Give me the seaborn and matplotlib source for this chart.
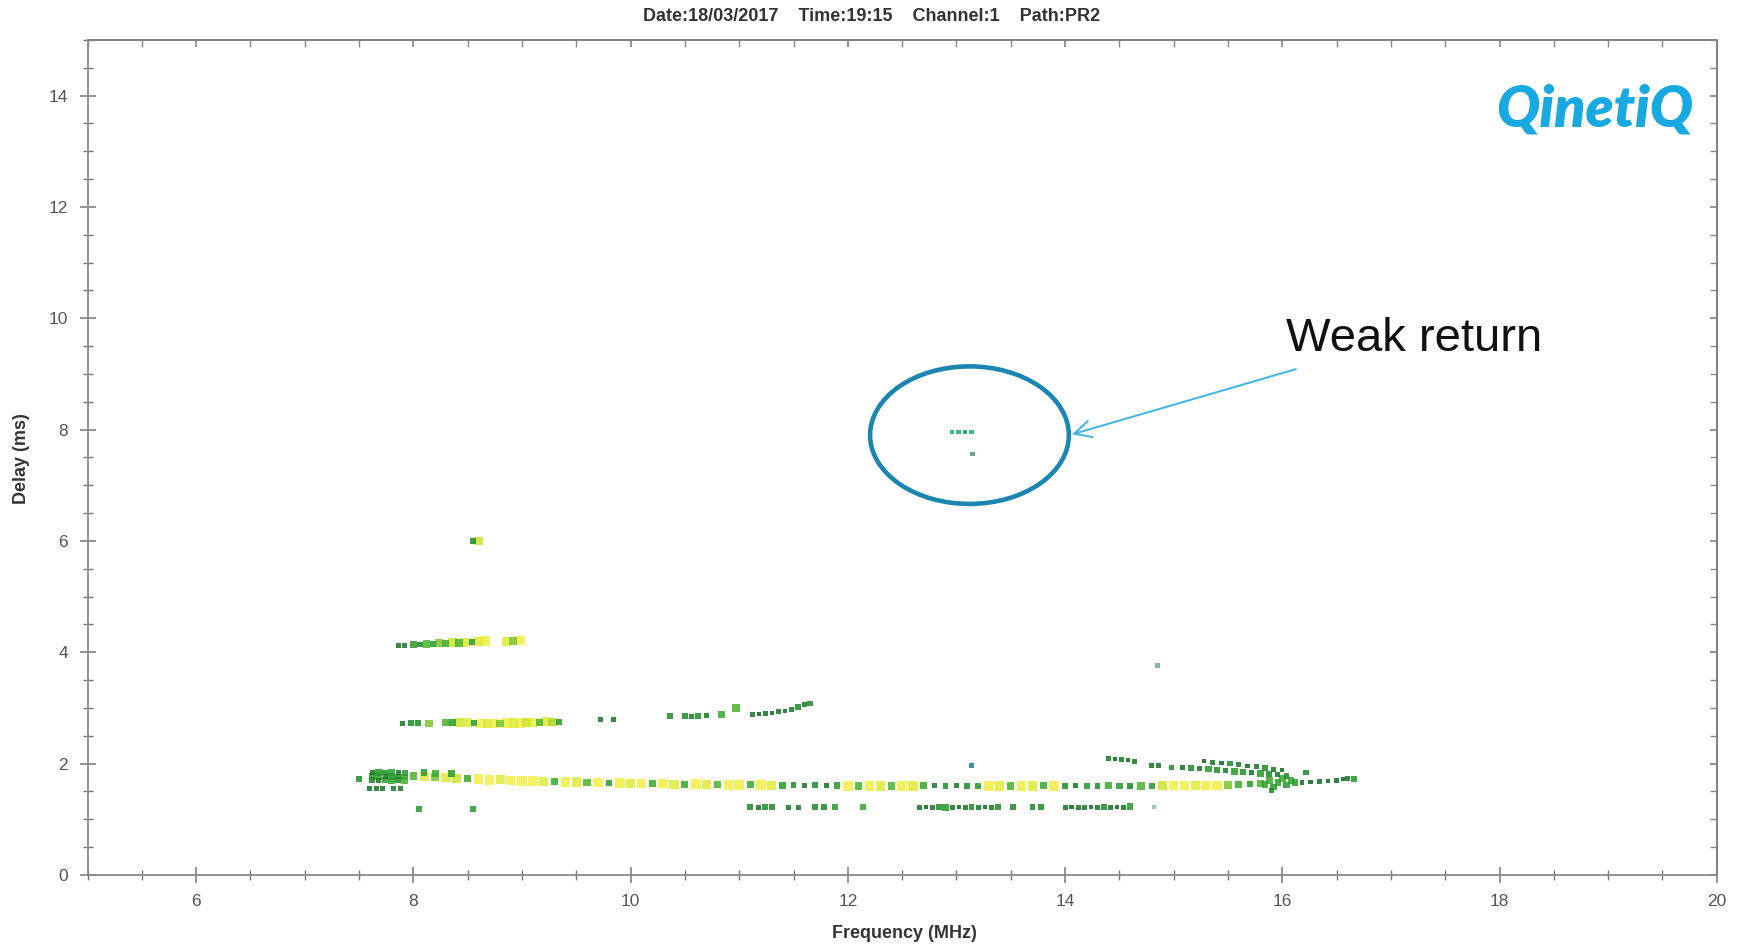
import pandas as pd
import matplotlib
matplotlib.use('Agg')
import matplotlib.pyplot as plt
import seaborn as sns
from matplotlib.colors import LinearSegmentedColormap
from matplotlib.patches import Ellipse
from matplotlib.ticker import MultipleLocator

# ---- sounding echoes: frequency (MHz), delay (ms), level (0 = dark green, 1 = yellow)
main_f = [8.0, 8.1, 8.2, 8.3, 8.4, 8.5, 8.6, 8.7, 8.8, 8.9,
          9.0, 9.1, 9.2, 9.3, 9.4, 9.5, 9.6, 9.7, 9.8, 9.9,
          10.0, 10.1, 10.2, 10.3, 10.4, 10.5, 10.6, 10.7, 10.8, 10.9,
          11.0, 11.1, 11.2, 11.3, 11.4, 11.5, 11.6, 11.7, 11.8, 11.9,
          12.0, 12.1, 12.2, 12.3, 12.4, 12.5, 12.6, 12.7, 12.8, 12.9,
          13.0, 13.1, 13.2, 13.3, 13.4, 13.5, 13.6, 13.7, 13.8, 13.9,
          14.0, 14.1, 14.2, 14.3, 14.4, 14.5, 14.6, 14.7, 14.8, 14.9,
          15.0, 15.1, 15.2, 15.3, 15.4, 15.5, 15.6, 15.7, 15.8]
main_d = [1.78, 1.77, 1.76, 1.75, 1.74, 1.73, 1.72, 1.71, 1.71, 1.70,
          1.69, 1.69, 1.68, 1.68, 1.67, 1.67, 1.66, 1.66, 1.65, 1.65,
          1.65, 1.64, 1.64, 1.64, 1.63, 1.63, 1.63, 1.63, 1.62, 1.62,
          1.62, 1.62, 1.62, 1.61, 1.61, 1.61, 1.61, 1.61, 1.61, 1.61,
          1.60, 1.60, 1.60, 1.60, 1.60, 1.60, 1.60, 1.60, 1.60, 1.60,
          1.60, 1.60, 1.60, 1.60, 1.60, 1.60, 1.60, 1.60, 1.60, 1.60,
          1.60, 1.60, 1.60, 1.60, 1.60, 1.60, 1.60, 1.60, 1.60, 1.60,
          1.61, 1.61, 1.61, 1.61, 1.61, 1.62, 1.62, 1.63, 1.64]
main_c = [0.5, 0.9, 0.6, 0.9, 0.8, 0.4, 1.0, 1.0, 0.9, 1.0,
          1.0, 1.0, 0.9, 0.4, 1.0, 0.9, 0.5, 1.0, 0.3, 1.0,
          0.9, 1.0, 0.4, 1.0, 0.9, 0.4, 1.0, 0.9, 0.5, 1.0,
          1.0, 0.4, 1.0, 0.9, 0.3, 0.2, 0.1, 0.2, 0.1, 0.3,
          1.0, 0.5, 1.0, 0.9, 0.5, 1.0, 0.9, 0.4, 0.1, 0.2,
          0.1, 0.2, 0.3, 1.0, 0.9, 0.5, 1.0, 0.9, 0.4, 1.0,
          0.2, 0.1, 0.3, 0.2, 0.4, 0.3, 0.2, 0.5, 0.3, 0.8,
          1.0, 1.0, 0.9, 1.0, 1.0, 0.6, 0.4, 0.3, 0.5]

left_f = [7.50, 7.62, 7.68, 7.74, 7.80, 7.86, 7.92, 7.62, 7.68, 7.74, 7.80, 7.86, 7.92,
          7.62, 7.68, 7.74, 7.80, 7.86, 7.92, 7.60, 7.66, 7.72, 7.82, 7.88,
          8.10, 8.20, 8.35, 8.05, 8.55, 8.55, 8.60]
left_d = [1.72, 1.84, 1.84, 1.84, 1.84, 1.84, 1.83, 1.77, 1.77, 1.77, 1.77, 1.77, 1.76,
          1.70, 1.70, 1.70, 1.70, 1.70, 1.70, 1.55, 1.55, 1.55, 1.55, 1.55,
          1.84, 1.83, 1.82, 1.18, 1.18, 6.00, 6.00]
left_c = [0.2, 0.1, 0.3, 0.2, 0.35, 0.1, 0.3, 0.3, 0.35, 0.1, 0.3, 0.2, 0.4,
          0.2, 0.1, 0.3, 0.35, 0.2, 0.5, 0.1, 0.1, 0.1, 0.1, 0.1,
          0.3, 0.4, 0.3, 0.3, 0.3, 0.2, 0.8]

f4_f = [7.86, 7.92, 8.00, 8.06, 8.12, 8.18, 8.24, 8.30, 8.36, 8.42, 8.48, 8.54, 8.60, 8.66,
        8.86, 8.92, 8.98]
f4_d = [4.13, 4.13, 4.14, 4.14, 4.15, 4.15, 4.16, 4.16, 4.17, 4.17, 4.18, 4.19, 4.19, 4.20,
        4.20, 4.21, 4.21]
f4_c = [0.1, 0.1, 0.3, 0.2, 0.5, 0.3, 0.6, 0.4, 0.8, 0.5, 0.9, 0.3, 0.9, 1.0,
        0.9, 0.6, 1.0]

f3_f = [7.90, 7.98, 8.04, 8.14, 8.30, 8.36, 8.42, 8.50, 8.56, 8.62, 8.68, 8.74, 8.80, 8.86,
        8.92, 8.98, 9.04, 9.10, 9.16, 9.22, 9.28, 9.34, 9.72, 9.84,
        10.36, 10.50, 10.56, 10.62, 10.70, 10.84, 10.97,
        11.12, 11.18, 11.24, 11.30, 11.36, 11.42, 11.48, 11.54, 11.60, 11.65]
f3_d = [2.72, 2.73, 2.73, 2.72, 2.74, 2.74, 2.74, 2.74, 2.73, 2.72, 2.72, 2.72, 2.72, 2.73,
        2.73, 2.73, 2.74, 2.74, 2.74, 2.75, 2.75, 2.75, 2.79, 2.79,
        2.85, 2.85, 2.85, 2.85, 2.86, 2.88, 3.00,
        2.88, 2.89, 2.90, 2.91, 2.93, 2.95, 2.98, 3.02, 3.06, 3.08]
f3_c = [0.1, 0.2, 0.2, 0.6, 0.5, 0.3, 0.8, 0.9, 0.3, 1.0, 0.9, 1.0, 0.6, 1.0,
        0.9, 1.0, 0.8, 1.0, 0.5, 0.9, 0.7, 0.3, 0.1, 0.1,
        0.2, 0.2, 0.1, 0.2, 0.1, 0.4, 0.5,
        0.1, 0.0, 0.1, 0.0, 0.1, 0.0, 0.1, 0.2, 0.1, 0.2]

low_f = [11.10, 11.18, 11.24, 11.30, 11.45, 11.55, 11.70, 11.78, 11.88, 12.14,
         12.66, 12.72, 12.78, 12.84, 12.90, 12.96, 13.02, 13.08, 13.14, 13.20, 13.26, 13.32, 13.38,
         13.52, 13.70, 13.78,
         14.00, 14.06, 14.12, 14.18, 14.24, 14.30, 14.36, 14.42, 14.48, 14.54, 14.60]
low_d = [1.22, 1.22, 1.22, 1.22, 1.22, 1.22, 1.22, 1.22, 1.22, 1.22,
         1.22, 1.22, 1.22, 1.22, 1.21, 1.21, 1.22, 1.22, 1.22, 1.22, 1.22, 1.22, 1.22,
         1.22, 1.22, 1.22,
         1.22, 1.22, 1.22, 1.22, 1.22, 1.22, 1.22, 1.22, 1.22, 1.22, 1.23]
low_c = [0.2, 0.1, 0.2, 0.2, 0.1, 0.1, 0.2, 0.2, 0.3, 0.4,
         0.1, 0.0, 0.1, 0.2, 0.3, 0.1, 0.0, 0.1, 0.2, 0.1, 0.0, 0.1, 0.2,
         0.2, 0.2, 0.2,
         0.1, 0.0, 0.1, 0.1, 0.0, 0.1, 0.2, 0.1, 0.0, 0.1, 0.3]

hi_f = [14.40, 14.46, 14.52, 14.58, 14.64, 14.80, 14.86, 14.98,
        15.08, 15.16, 15.24, 15.32, 15.40, 15.48, 15.56, 15.64, 15.72, 15.80, 15.88, 15.96, 16.04,
        15.28, 15.36, 15.44, 15.52, 15.60, 15.68, 15.76, 15.84, 15.92, 16.00, 16.22,
        15.84, 15.88, 15.92, 15.96, 16.00, 16.04, 16.08, 16.12, 15.90,
        16.18, 16.26, 16.34, 16.42, 16.50, 16.56, 16.60, 16.66]
hi_d = [2.10, 2.09, 2.08, 2.06, 2.04, 1.97, 1.96, 1.93,
        1.93, 1.92, 1.91, 1.90, 1.89, 1.88, 1.86, 1.85, 1.84, 1.82, 1.81, 1.80, 1.78,
        2.04, 2.02, 2.01, 2.00, 1.98, 1.96, 1.94, 1.92, 1.90, 1.88, 1.84,
        1.62, 1.70, 1.58, 1.66, 1.74, 1.62, 1.70, 1.66, 1.52,
        1.66, 1.67, 1.68, 1.69, 1.70, 1.72, 1.74, 1.72]
hi_c = [0.1, 0.0, 0.1, 0.0, 0.1, 0.1, 0.1, 0.2,
        0.1, 0.2, 0.1, 0.3, 0.2, 0.1, 0.3, 0.2, 0.1, 0.3, 0.2, 0.1, 0.2,
        0.0, 0.1, 0.0, 0.2, 0.1, 0.0, 0.1, 0.2, 0.1, 0.0, 0.2,
        0.35, 0.4, 0.3, 0.35, 0.4, 0.3, 0.35, 0.3, 0.2,
        0.05, 0.0, 0.05, 0.0, 0.05, 0.0, 0.1, 0.3]

# faint (teal) returns, incl. the weak return near 8 ms
weak_f = [12.96, 13.02, 13.08, 13.14, 13.15, 13.14, 14.85, 14.82]
weak_d = [7.96, 7.96, 7.96, 7.96, 7.56, 1.97, 3.76, 1.22]
weak_col = ['#3dbb7e', '#3dbb7e', '#2fae6e', '#3dbb7e', '#6aa592', '#3a93aa', '#86b6ac', '#9cc8c0']

df = pd.DataFrame({
    'freq': main_f + left_f + f4_f + f3_f + low_f + hi_f,
    'delay': main_d + left_d + f4_d + f3_d + low_d + hi_d,
    'level': main_c + left_c + f4_c + f3_c + low_c + hi_c,
})
df = df.sort_values('level', ascending=False)

cmap = LinearSegmentedColormap.from_list(
    'echo', ['#0b661c', '#1f9428', '#45b52a', '#c4e024', '#f2ef45'])

sns.set_theme(style='white')
plt.rcParams['font.family'] = ['Liberation Sans', 'DejaVu Sans']

fig = plt.figure(figsize=(17.5, 9.49), dpi=100)
ax = fig.add_axes([0.050, 0.078, 0.931, 0.880])

sns.scatterplot(data=df, x='freq', y='delay', hue='level', palette=cmap, hue_norm=(0, 1),
                size='level', sizes=(9, 48), size_norm=(0, 1),
                marker='s', linewidth=0, alpha=0.85, legend=False, ax=ax)
ax.scatter(weak_f, weak_d, c=weak_col, s=11, marker='s', linewidths=0)

ax.set_xlim(5, 20)
ax.set_ylim(0, 15)
ax.set_xticks([6, 8, 10, 12, 14, 16, 18, 20])
ax.set_yticks([0, 2, 4, 6, 8, 10, 12, 14])
ax.xaxis.set_minor_locator(MultipleLocator(0.5))
ax.yaxis.set_minor_locator(MultipleLocator(0.5))
ax.tick_params(which='major', direction='inout', length=12, width=1.1, color='#777777',
               labelsize=12.5, labelcolor='#555555', pad=8, bottom=True, left=True)
ax.tick_params(which='minor', direction='inout', length=7, width=1.0, color='#777777',
               bottom=True, left=True)
for s in ax.spines.values():
    s.set_color('#8a8a8a')
    s.set_linewidth(1.3)
ax.set_xlabel('')
ax.set_ylabel('')

# inner ticks on top and right
top = ax.secondary_xaxis('top')
top.xaxis.set_major_locator(MultipleLocator(2))
top.xaxis.set_minor_locator(MultipleLocator(0.5))
top.tick_params(which='both', direction='in', length=5, color='#888888', labeltop=False)
right = ax.secondary_yaxis('right')
right.yaxis.set_major_locator(MultipleLocator(2))
right.yaxis.set_minor_locator(MultipleLocator(0.5))
right.tick_params(which='both', direction='in', length=5, color='#888888', labelright=False)

fig.text(0.498, 0.983, 'Date:18/03/2017    Time:19:15    Channel:1    Path:PR2',
         ha='center', va='center', fontsize=13, fontweight='bold', color='#333333')
fig.text(0.517, 0.016, 'Frequency (MHz)', ha='center', va='center',
         fontsize=13, fontweight='bold', color='#333333')
fig.text(0.0125, 0.517, 'Delay (ms)', ha='center', va='center', rotation=90,
         fontsize=13, fontweight='bold', color='#333333')

ax.text(0.925, 0.917, 'QinetiQ', transform=ax.transAxes, ha='center', va='center',
        fontsize=41, fontweight='heavy', fontstyle='italic', color='#19a9e1',
        family=['Lato', 'Open Sans', 'DejaVu Sans'])

ax.add_patch(Ellipse((13.12, 7.9), 1.83, 2.47, fill=False, edgecolor='#1b86b2', linewidth=3.3))
ax.annotate('', xy=(14.04, 7.9), xytext=(16.15, 9.1),
            arrowprops=dict(arrowstyle='->', color='#3cb4ea', lw=1.4, mutation_scale=30))
ax.text(16.03, 9.62, 'Weak return', ha='left', va='center', fontsize=34, color='#111111')

fig.savefig('out.png', dpi=100)
